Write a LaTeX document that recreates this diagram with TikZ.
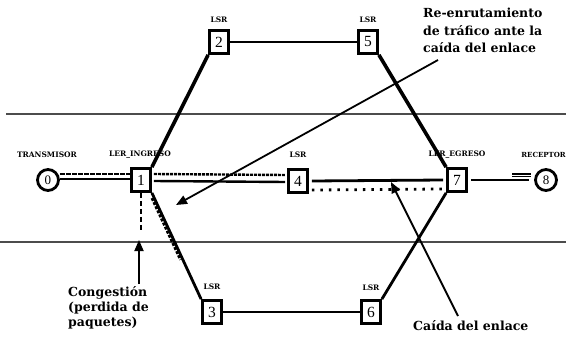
\documentclass[tikz,border=0pt]{standalone}
\usepackage{fontspec}
\setmainfont{Liberation Serif}
\newfontfamily\annfont{DejaVu Serif}
\usetikzlibrary{arrows.meta,calc}
\begin{document}
\begin{tikzpicture}[x=1pt,y=-1pt,
  box/.style={draw, line width=2.8pt, minimum width=19pt, minimum height=23pt, inner sep=0pt, font=\fontsize{15.5}{15}\selectfont},
  endpt/.style={draw, circle, line width=2.8pt, minimum size=21pt, inner sep=0pt, font=\fontsize{13}{13}\selectfont},
  small/.style={font=\annfont\bfseries\fontsize{7.5}{8}\selectfont, inner sep=0pt},
  ann/.style={font=\annfont\bfseries\fontsize{12.5}{17.5}\selectfont, align=left, inner sep=0pt},
  link/.style={line width=3.6pt},
  thin link/.style={line width=2.8pt},
  band/.style={line width=1.8pt, black!70},
  arr/.style={line width=1.8pt, -{Triangle[length=11pt,width=9pt]}}
]
\useasboundingbox (0,0) rectangle (566,337);
\clip (0,0) rectangle (566,337);

% band lines
\coordinate (bandTL) at (6,114);
\coordinate (bandTR) at (566,114);
\coordinate (bandBL) at (0,242);
\coordinate (bandBR) at (566,242);
\draw[band] (bandTL) -- (bandTR);
\draw[band] (bandBL) -- (bandBR);

% nodes
\node[endpt] (n0) at (48,180) {0};
\node[box] (n1) at (141,180) {1};
\node[box] (n2) at (219,42) {2};
\node[box] (n5) at (368,42) {5};
\node[box] (n4) at (298,181) {4};
\node[box] (n7) at (457,180) {7};
\node[endpt] (n8) at (546,180) {8};
\node[box] (n3) at (212,312) {3};
\node[box] (n6) at (371,312) {6};

% labels
\node[small] (l0) at (47,155) {TRANSMISOR};
\node[small] (l1) at (140,155) {LER\_INGRESO};
\node[small] (l4) at (298,155) {LSR};
\node[small] (l7) at (457,155) {LER\_EGRESO};
\node[small, anchor=east, font=\annfont\bfseries\fontsize{7}{8}\selectfont] (l8) at (566,155) {RECEPTOR};
\node[small] (l2) at (219,20) {LSR};
\node[small] (l5) at (368,20) {LSR};
\node[small] (l3) at (212,287) {LSR};
\node[small] (l6) at (371,288) {LSR};

% links
\draw[link] (n1.north east) -- (n2.south west);
\draw[thin link] (n2) -- (n5);
\draw[link] (n5.south east) -- (n7.north west);
\draw[thin link] (n7.south west) -- (n6.north east);
\draw[thin link] (n3) -- (n6);
\draw[thin link] (n1.south east) -- (n3.north west);
\draw[line width=2.6pt, dash pattern=on 3pt off 1.5pt]
  ($(n1.south east)!0.04!(n3.north west)+(-2,1)$) -- ($(n1.south east)!0.62!(n3.north west)+(-2,1)$);

% 0 - 1 double line
\draw[line width=2.4pt, dash pattern=on 5pt off 1pt] ($(n0.east)+(0,-6)$) -- ($(n1.west)+(0,-6)$);
\draw[line width=2.4pt] ($(n0.east)+(0,-1)$) -- ($(n1.west)+(0,-1)$);
% 1 - 4 double line
\draw[line width=2.4pt, dash pattern=on 3pt off 1pt] ($(n1.east)+(2,-6)$) -- ($(n4.west)+(-2,-6)$);
\draw[line width=2.4pt] ($(n1.east)+(2,1)$) -- ($(n4.west)+(-2,1)$);
% 4 - 7
\draw[line width=2.8pt] ($(n4.east)+(3,0)$) -- ($(n7.west)+(-3,0)$);
\draw[line width=2.8pt, dash pattern=on 2.5pt off 6pt] ($(n4.east)+(3,9)$) -- ($(n7.west)+(-3,9)$);
% 7 - 8
\draw[line width=2.8pt] ($(n7.east)+(3,0)$) -- ($(n8.west)+(-5,0)$);
\draw[line width=1.5pt] ($(n8.west)+(-22,-6)$) -- ($(n8.west)+(-3,-6)$);
\draw[line width=1.5pt] ($(n8.west)+(-22,-3.5)$) -- ($(n8.west)+(-3,-3.5)$);

% congestion dashed drop
\coordinate (drop) at (141,230);
\draw[line width=2.6pt, dash pattern=on 5pt off 3pt] (n1.south) -- (drop);

% annotations
\node[ann, anchor=north west] (reenr) at (423,8) {Re-enrutamiento\\de tráfico ante la\\caída del enlace};
\node[ann, anchor=base west] (caida) at (413,330) {Caída del enlace};
\node[ann, anchor=north west, font=\annfont\bfseries\fontsize{12.5}{15}\selectfont] (cong) at (68,286) {Congestión\\(perdida de\\paquetes)};

\coordinate (reTail) at (438,60);
\coordinate (reTip) at (176,205);
\draw[arr] (reTail) -- (reTip);
\coordinate (caTail) at (458,316);
\coordinate (caTip) at (391,182);
\draw[arr] (caTail) -- (caTip);
\coordinate (coTail) at (139,284);
\coordinate (coTip) at (139,240);
\draw[arr] (coTail) -- (coTip);
\end{tikzpicture}
\end{document}
